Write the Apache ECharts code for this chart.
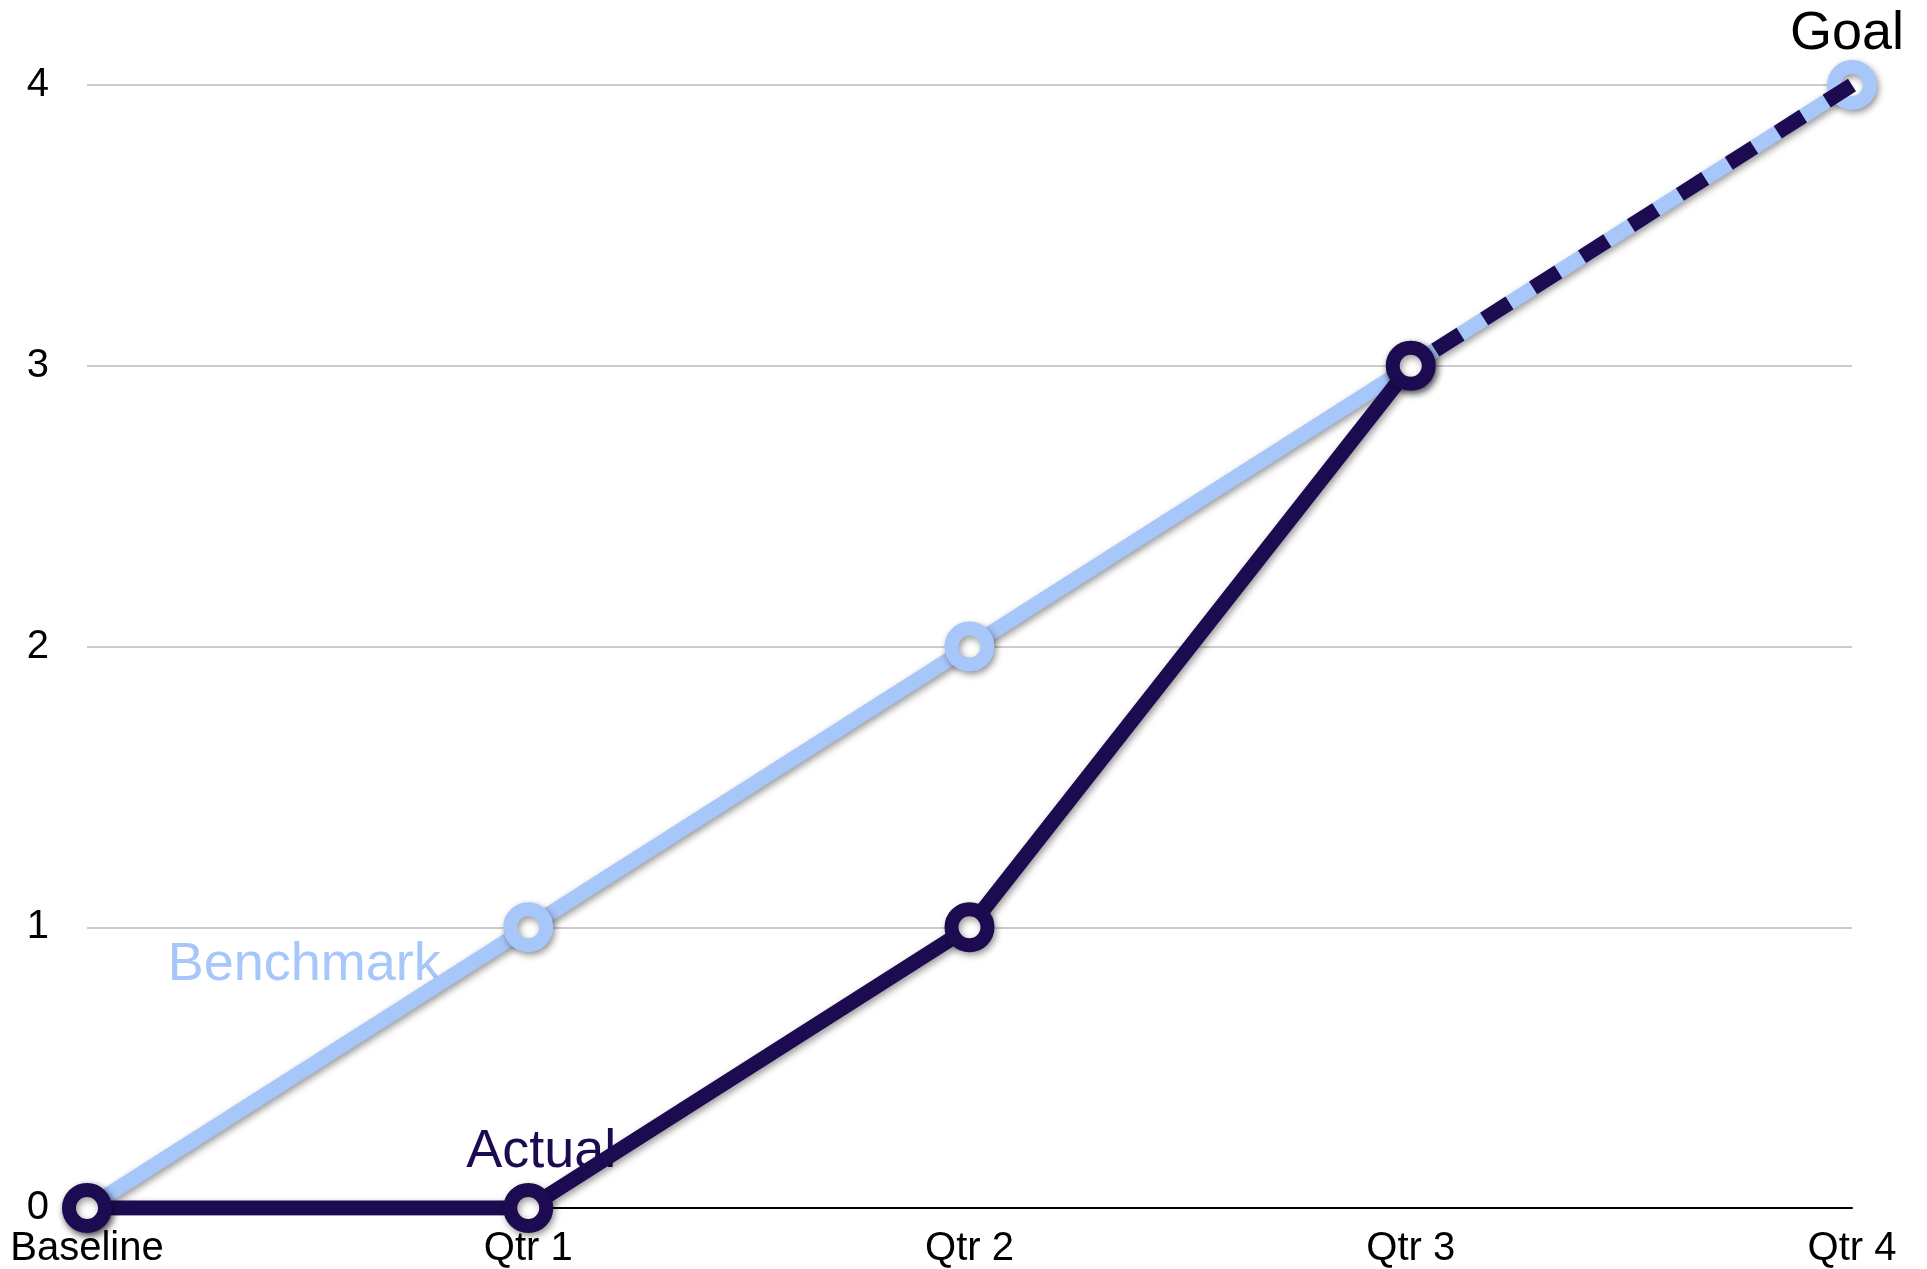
<!DOCTYPE html>
<html>
<head>
<meta charset="utf-8">
<title>Benchmark vs Actual</title>
<script src="https://cdn.jsdelivr.net/npm/echarts@6/dist/echarts.min.js"></script>
<style>
  html, body { margin: 0; padding: 0; background: #ffffff; }
  #chart { width: 1927px; height: 1269px; }
</style>
</head>
<body>
<div id="chart"></div>
<script>
// Quarterly progress: benchmark path vs. actual results, with the remaining
// quarter shown as a dashed projection toward the goal.
const categories = ['Baseline', 'Qtr 1', 'Qtr 2', 'Qtr 3', 'Qtr 4'];
const benchmark = [0, 1, 2, 3, 4];
const actual = [0, 0, 1, 3, null];
const projection = [null, null, null, 3, 4];
const yTicks = [0, 1, 2, 3, 4];

const FONT = '"Liberation Sans", Arial, Helvetica, sans-serif';
const LIGHT = '#a7c6fa';
const DARK = '#1c0b50';

const shadow = {
  shadowColor: 'rgba(0,0,0,0.4)',
  shadowBlur: 7,
  shadowOffsetX: 2,
  shadowOffsetY: 3
};

// invisible anchor points that carry the series name tags
function tag(text, color, catIndex, value, offset) {
  return {
    value: [categories[catIndex], value],
    label: { show: true, formatter: text, color: color, offset: offset }
  };
}

const chart = echarts.init(document.getElementById('chart'), null, { renderer: 'canvas' });

chart.setOption({
  backgroundColor: '#ffffff',
  animation: false,
  grid: { left: 87, right: 75, top: 85, bottom: 61, containLabel: false },
  xAxis: {
    type: 'category',
    data: categories,
    boundaryGap: false,
    axisLine: { show: true, lineStyle: { color: '#000000', width: 2 } },
    axisTick: { show: false },
    axisLabel: { color: '#000000', fontFamily: FONT, fontSize: 40, margin: 21 },
    splitLine: { show: false }
  },
  yAxis: {
    type: 'value',
    min: yTicks[0],
    max: yTicks[yTicks.length - 1],
    interval: 1,
    axisLine: { show: false },
    axisTick: { show: false },
    axisLabel: { color: '#000000', fontFamily: FONT, fontSize: 40, margin: 38 },
    splitLine: { show: true, lineStyle: { color: '#cccccc', width: 2 } }
  },
  series: [
    {
      name: 'tags',
      type: 'scatter',
      z: 1,
      silent: true,
      symbol: 'circle',
      symbolSize: 1,
      itemStyle: { color: 'rgba(0,0,0,0)', opacity: 1 },
      label: { show: true, position: 'inside', fontFamily: FONT, fontSize: 54 },
      data: [
        tag('Benchmark', LIGHT, 1, benchmark[1], [-224, 38]),
        tag('Actual', DARK, 1, actual[1], [13, -56]),
        tag('Goal', '#000000', 4, benchmark[4], [-5, -51])
      ]
    },
    {
      name: 'Benchmark',
      type: 'line',
      z: 3,
      data: benchmark,
      symbol: 'circle',
      symbolSize: 36,
      showAllSymbol: true,
      lineStyle: Object.assign({ color: LIGHT, width: 15 }, shadow),
      itemStyle: Object.assign({ color: '#ffffff', borderColor: LIGHT, borderWidth: 14 }, shadow)
    },
    {
      name: 'Projection',
      type: 'line',
      z: 4,
      data: projection,
      symbol: 'none',
      lineStyle: { color: DARK, width: 15, type: [30, 28], dashOffset: 29, cap: 'butt' }
    },
    {
      name: 'Actual',
      type: 'line',
      z: 5,
      data: actual,
      symbol: 'circle',
      symbolSize: 36,
      showAllSymbol: true,
      connectNulls: false,
      lineStyle: Object.assign({ color: DARK, width: 15 }, shadow),
      itemStyle: Object.assign({ color: '#ffffff', borderColor: DARK, borderWidth: 14 }, shadow)
    }
  ]
});
</script>
</body>
</html>
